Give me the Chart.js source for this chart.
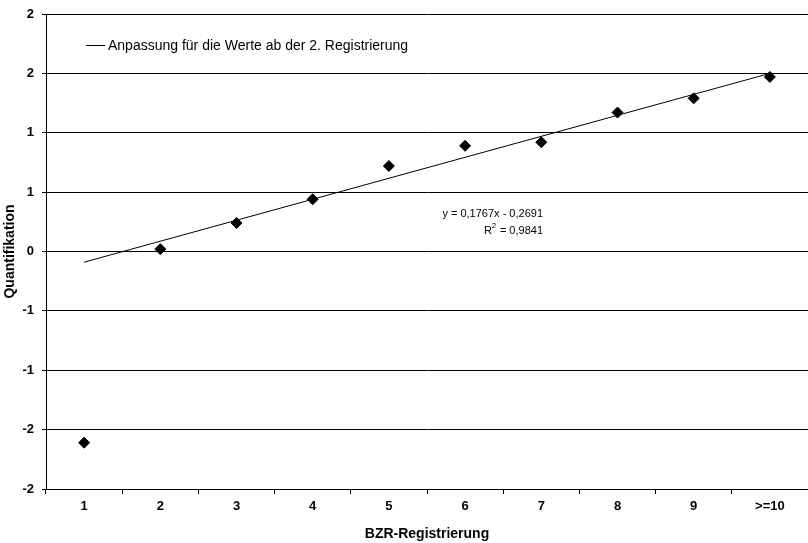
<!doctype html>
<html lang="de">
<head>
  <meta charset="utf-8">
  <title>BZR-Registrierung</title>
  <style>
    html, body { margin: 0; padding: 0; background: #fff; overflow: hidden; }
    #wrap { width: 808px; height: 543px; }
    canvas { display: block; }
  </style>
</head>
<body>
  <div id="wrap">
    <canvas id="grafico" width="808" height="543"></canvas>
  </div>

  <script src="https://cdn.jsdelivr.net/npm/chart.js"></script>
  <script>
    // Daten aus der Abbildung
    const kategorien = ['1', '2', '3', '4', '5', '6', '7', '8', '9', '>=10'];
    const werte = [-1.61, 0.02, 0.24, 0.44, 0.72, 0.89, 0.92, 1.17, 1.29, 1.47];
    const trendKategorien = ['1', '>=10'];
    const trendWerte = [-0.09, 1.50];
    const trendLabel = 'Anpassung für die Werte ab der 2. Registrierung';
    const gleichung = 'y = 0,1767x - 0,2691';
    const bestimmtheit = '0,9841';

    const schrift = "'Liberation Sans', Arial, sans-serif";

    // Legende und Gleichung im Diagramm
    const textPlugin = {
      id: 'texte',
      afterDraw(chart) {
        const ctx = chart.ctx;
        ctx.save();
        ctx.strokeStyle = '#000';
        ctx.lineWidth = 1;
        ctx.beginPath();
        ctx.moveTo(86, 45.5);
        ctx.lineTo(105, 45.5);
        ctx.stroke();
        ctx.fillStyle = '#000';
        ctx.font = '14px ' + schrift;
        ctx.textBaseline = 'middle';
        ctx.textAlign = 'left';
        ctx.fillText(trendLabel, 108, 46);

        ctx.font = '11px ' + schrift;
        ctx.textAlign = 'right';
        ctx.fillText(gleichung, 543, 214);
        const rest = ' = ' + bestimmtheit;
        const wRest = ctx.measureText(rest).width;
        ctx.fillText(rest, 543, 231);
        ctx.textAlign = 'left';
        const wR = ctx.measureText('R').width;
        const xR = 543 - wRest - wR - 5;
        ctx.fillText('R', xR, 231);
        ctx.font = '8px ' + schrift;
        ctx.fillText('2', xR + wR, 226);
        ctx.restore();
      }
    };

    const lienzo = document.getElementById('grafico');
    const grafico = new Chart(lienzo, {
      type: 'line',
      data: {
        labels: kategorien,
        datasets: [
          {
            label: 'Quantifikation',
            data: werte,
            showLine: false,
            pointStyle: 'rectRot',
            pointRadius: 5.5,
            pointBackgroundColor: '#000',
            pointBorderColor: '#000',
            borderColor: '#000'
          },
          {
            label: trendLabel,
            data: trendKategorien.map((k, i) => ({ x: k, y: trendWerte[i] })),
            borderColor: '#000',
            borderWidth: 1,
            pointRadius: 0,
            fill: false
          }
        ]
      },
      options: {
        responsive: false,
        animation: false,
        layout: { autoPadding: false, padding: { top: 14, right: 0, left: 0, bottom: 0 } },
        plugins: {
          legend: { display: false },
          tooltip: { enabled: false }
        },
        scales: {
          x: {
            offset: true,
            grid: {
              offset: true,
              drawOnChartArea: false,
              drawTicks: true,
              tickLength: 5,
              color: '#000'
            },
            border: { display: true, color: '#000', width: 1 },
            ticks: {
              color: '#000',
              padding: 5,
              font: { family: schrift, size: 13, weight: 'bold' },
              maxRotation: 0
            },
            title: {
              display: true,
              text: 'BZR-Registrierung',
              color: '#000',
              padding: { top: 4, bottom: 0 },
              font: { family: schrift, size: 14, weight: 'bold' }
            },
            afterFit(scale) {
              scale.height = 54;
              scale.paddingLeft = 0;
              scale.paddingRight = 0;
            }
          },
          y: {
            min: -2,
            max: 2,
            grid: {
              color: '#000',
              lineWidth: 1,
              drawTicks: true,
              tickLength: 4
            },
            border: { display: true, color: '#000', width: 1 },
            ticks: {
              stepSize: 0.5,
              color: '#000',
              padding: 8,
              font: { family: schrift, size: 13, weight: 'bold' },
              callback: v => String(Math.sign(v) * Math.round(Math.abs(v)))
            },
            title: {
              display: true,
              text: 'Quantifikation',
              color: '#000',
              padding: { top: 2, bottom: 0 },
              font: { family: schrift, size: 14, weight: 'bold' }
            },
            afterFit(scale) {
              scale.width = 46;
              scale.paddingTop = 0;
              scale.paddingBottom = 0;
            }
          }
        }
      },
      plugins: [textPlugin]
    });
  </script>
</body>
</html>
